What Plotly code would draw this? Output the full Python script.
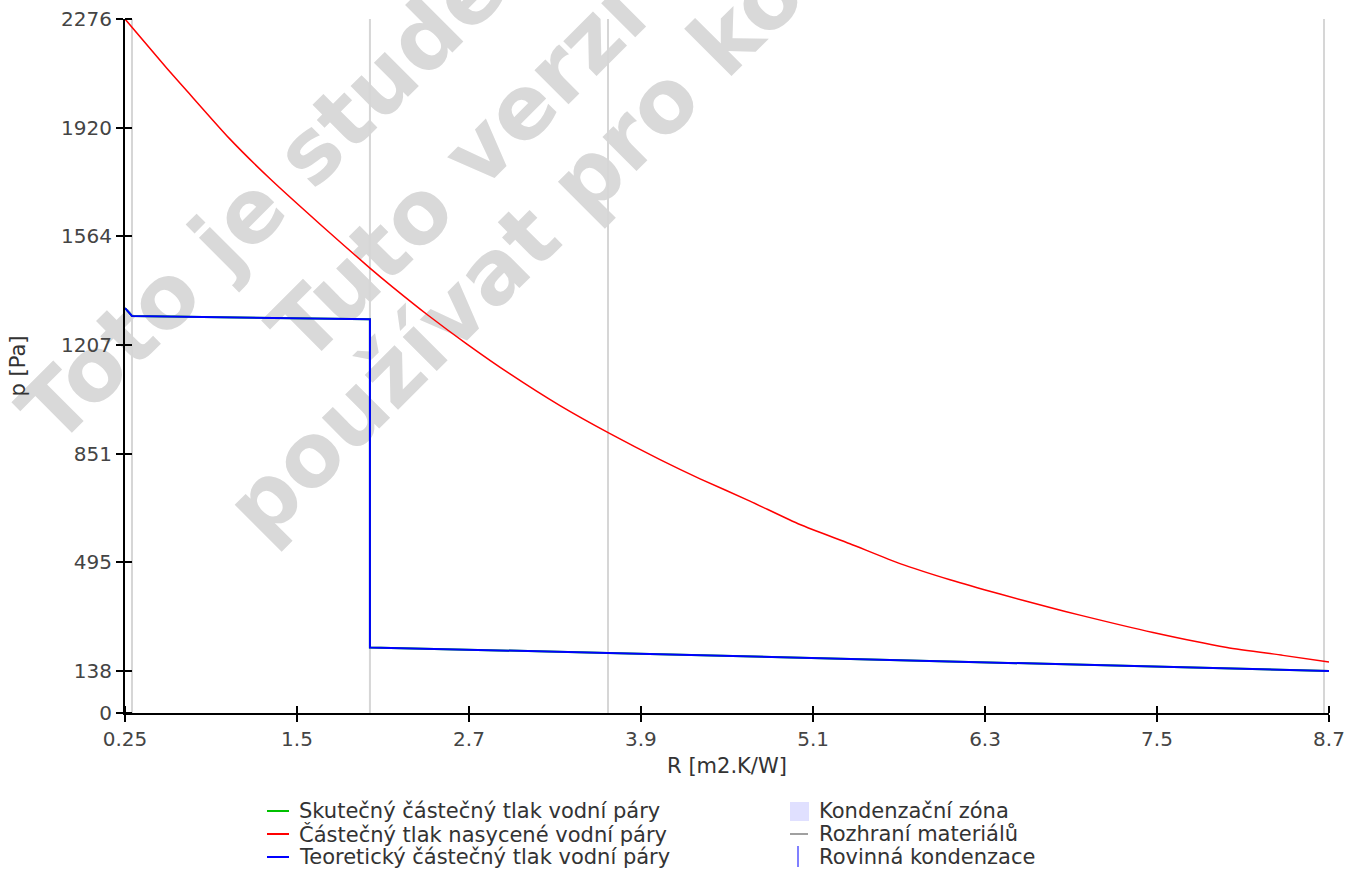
import plotly.graph_objects as go

# Thermal resistance positions [m2.K/W] and saturated vapour pressure [Pa]
r_sat = [0.25, 0.545, 0.685, 0.987, 1.268, 1.619, 1.969, 2.131, 2.370, 2.650,
         2.952, 3.303, 3.654, 4.005, 4.286, 4.636, 4.987, 5.338, 5.689, 6.040,
         6.391, 6.742, 6.952, 7.465, 7.984, 8.377, 8.70]
p_sat = [2276, 2114, 2040, 1882, 1752, 1603, 1459, 1396, 1307, 1210,
         1112, 1008, 916, 831, 768, 695, 618, 555, 490, 437,
         390, 346, 321, 264, 215, 189, 167]

# Theoretical (and actual) partial vapour pressure [Pa]
r_vap = [0.25, 0.299, 1.969, 1.969, 3.640, 8.665, 8.70]
p_vap = [1328, 1302, 1291, 215, 197, 139, 138]

# Material interfaces
r_interfaces = [0.299, 1.969, 3.640, 8.665]

# Axis ticks
x_tickvals = [0.25, 1.457, 2.664, 3.871, 5.079, 6.286, 7.493, 8.70]
x_ticktext = ["0.25", "1.5", "2.7", "3.9", "5.1", "6.3", "7.5", "8.7"]
y_tickvals = [0, 138, 495, 851, 1207, 1564, 1920, 2276]

legend_left = ["Skutečný částečný tlak vodní páry",
               "Částečný tlak nasycené vodní páry",
               "Teoretický částečný tlak vodní páry"]
legend_left_colors = ["#00c000", "#ff0000", "#0000ff"]
legend_right = ["Kondenzační zóna", "Rozhraní materiálů", "Rovinná kondenzace"]

watermark = ["Toto je studentská verze!", "Tuto verzi nelze",
             "používat pro komerční účely"]

FONT = "DejaVu Sans"
W, H = 1362, 870
ML, MR, MT, MB = 125, 33, 19, 157
PW, PH = W - ML - MR, H - MT - MB


def px(x):
    return (x - ML) / PW


def py(y):
    return (H - MB - y) / PH


fig = go.Figure()

fig.add_trace(go.Scatter(x=r_vap, y=p_vap, mode="lines",
                         line=dict(color=legend_left_colors[0], width=2),
                         name=legend_left[0], showlegend=False))
fig.add_trace(go.Scatter(x=r_sat, y=p_sat, mode="lines",
                         line=dict(color=legend_left_colors[1], width=1.5,
                                   shape="spline", smoothing=0.6),
                         name=legend_left[1], showlegend=False))
fig.add_trace(go.Scatter(x=r_vap, y=p_vap, mode="lines",
                         line=dict(color=legend_left_colors[2], width=2),
                         name=legend_left[2], showlegend=False))

shapes = []
annotations = []

# Watermark behind the plot
wm_centers = [(476, -23), (557, 64), (734, 22)]
for text, (cx, cy) in zip(watermark, wm_centers):
    shapes.append(dict(
        type="rect", xref="paper", yref="paper",
        x0=px(cx) - 0.0005, x1=px(cx) + 0.0005,
        y0=py(cy) - 0.0005, y1=py(cy) + 0.0005,
        line=dict(width=0), fillcolor="rgba(0,0,0,0)", layer="below",
        label=dict(text=text, textangle=-45, textposition="middle center",
                   font=dict(family=FONT, size=88, color="#d9d9d9",
                             weight="bold")),
    ))

# Material interface lines
for r in r_interfaces:
    shapes.append(dict(type="line", xref="x", yref="paper", x0=r, x1=r,
                       y0=0, y1=1, layer="below",
                       line=dict(color="#d6d6d6", width=2)))

# Legend, left column
rows_y = [811, 834, 857]
for text, color, ry in zip(legend_left, legend_left_colors, rows_y):
    shapes.append(dict(type="line", xref="paper", yref="paper",
                       x0=px(267), x1=px(289), y0=py(ry), y1=py(ry),
                       line=dict(color=color, width=2)))
    annotations.append(dict(text=text, xref="paper", yref="paper",
                            x=px(297), y=py(ry), xanchor="left",
                            yanchor="middle", showarrow=False,
                            font=dict(family=FONT, size=21, color="#333333")))

# Legend, right column
shapes.append(dict(type="rect", xref="paper", yref="paper",
                   x0=px(790), x1=px(809), y0=py(802), y1=py(821),
                   line=dict(width=0), fillcolor="#e0e0ff"))
shapes.append(dict(type="line", xref="paper", yref="paper",
                   x0=px(790), x1=px(808), y0=py(834), y1=py(834),
                   line=dict(color="#a0a0a0", width=2)))
shapes.append(dict(type="line", xref="paper", yref="paper",
                   x0=px(798), x1=px(798), y0=py(846), y1=py(867),
                   line=dict(color="#8080ff", width=2)))
for text, ry in zip(legend_right, rows_y):
    annotations.append(dict(text=text, xref="paper", yref="paper",
                            x=px(817), y=py(ry), xanchor="left",
                            yanchor="middle", showarrow=False,
                            font=dict(family=FONT, size=21, color="#333333")))

axis_common = dict(
    showgrid=False, zeroline=False, showline=True, linecolor="black",
    linewidth=2, ticks="outside", ticklen=7, tickwidth=2, tickcolor="black",
    tickfont=dict(family=FONT, size=20, color="#444444"), automargin=False,
)

# Inner half of the crossing tick marks
x_inner = [v + 1e-6 for v in x_tickvals]
y_inner = [v + 1e-4 for v in y_tickvals]

fig.update_layout(
    width=W, height=H,
    margin=dict(l=ML, r=MR, t=MT, b=MB),
    paper_bgcolor="white", plot_bgcolor="white",
    showlegend=False,
    shapes=shapes, annotations=annotations,
    xaxis=dict(range=[0.25, 8.70], tickmode="array", tickvals=x_tickvals,
               ticktext=x_ticktext,
               minor=dict(tickmode="array", tickvals=x_inner, ticks="inside",
                          ticklen=7, tickwidth=2, tickcolor="black",
                          showgrid=False),
               title=dict(text="R [m2.K/W]", standoff=8,
                          font=dict(family=FONT, size=21, color="#333333")),
               **axis_common),
    yaxis=dict(range=[0, 2276], tickmode="array", tickvals=y_tickvals,
               minor=dict(tickmode="array", tickvals=y_inner, ticks="inside",
                          ticklen=7, tickwidth=2, tickcolor="black",
                          showgrid=False),
               title=dict(text="p [Pa]", standoff=30,
                          font=dict(family=FONT, size=21, color="#333333")),
               **axis_common),
)

fig.write_html("out.html")
